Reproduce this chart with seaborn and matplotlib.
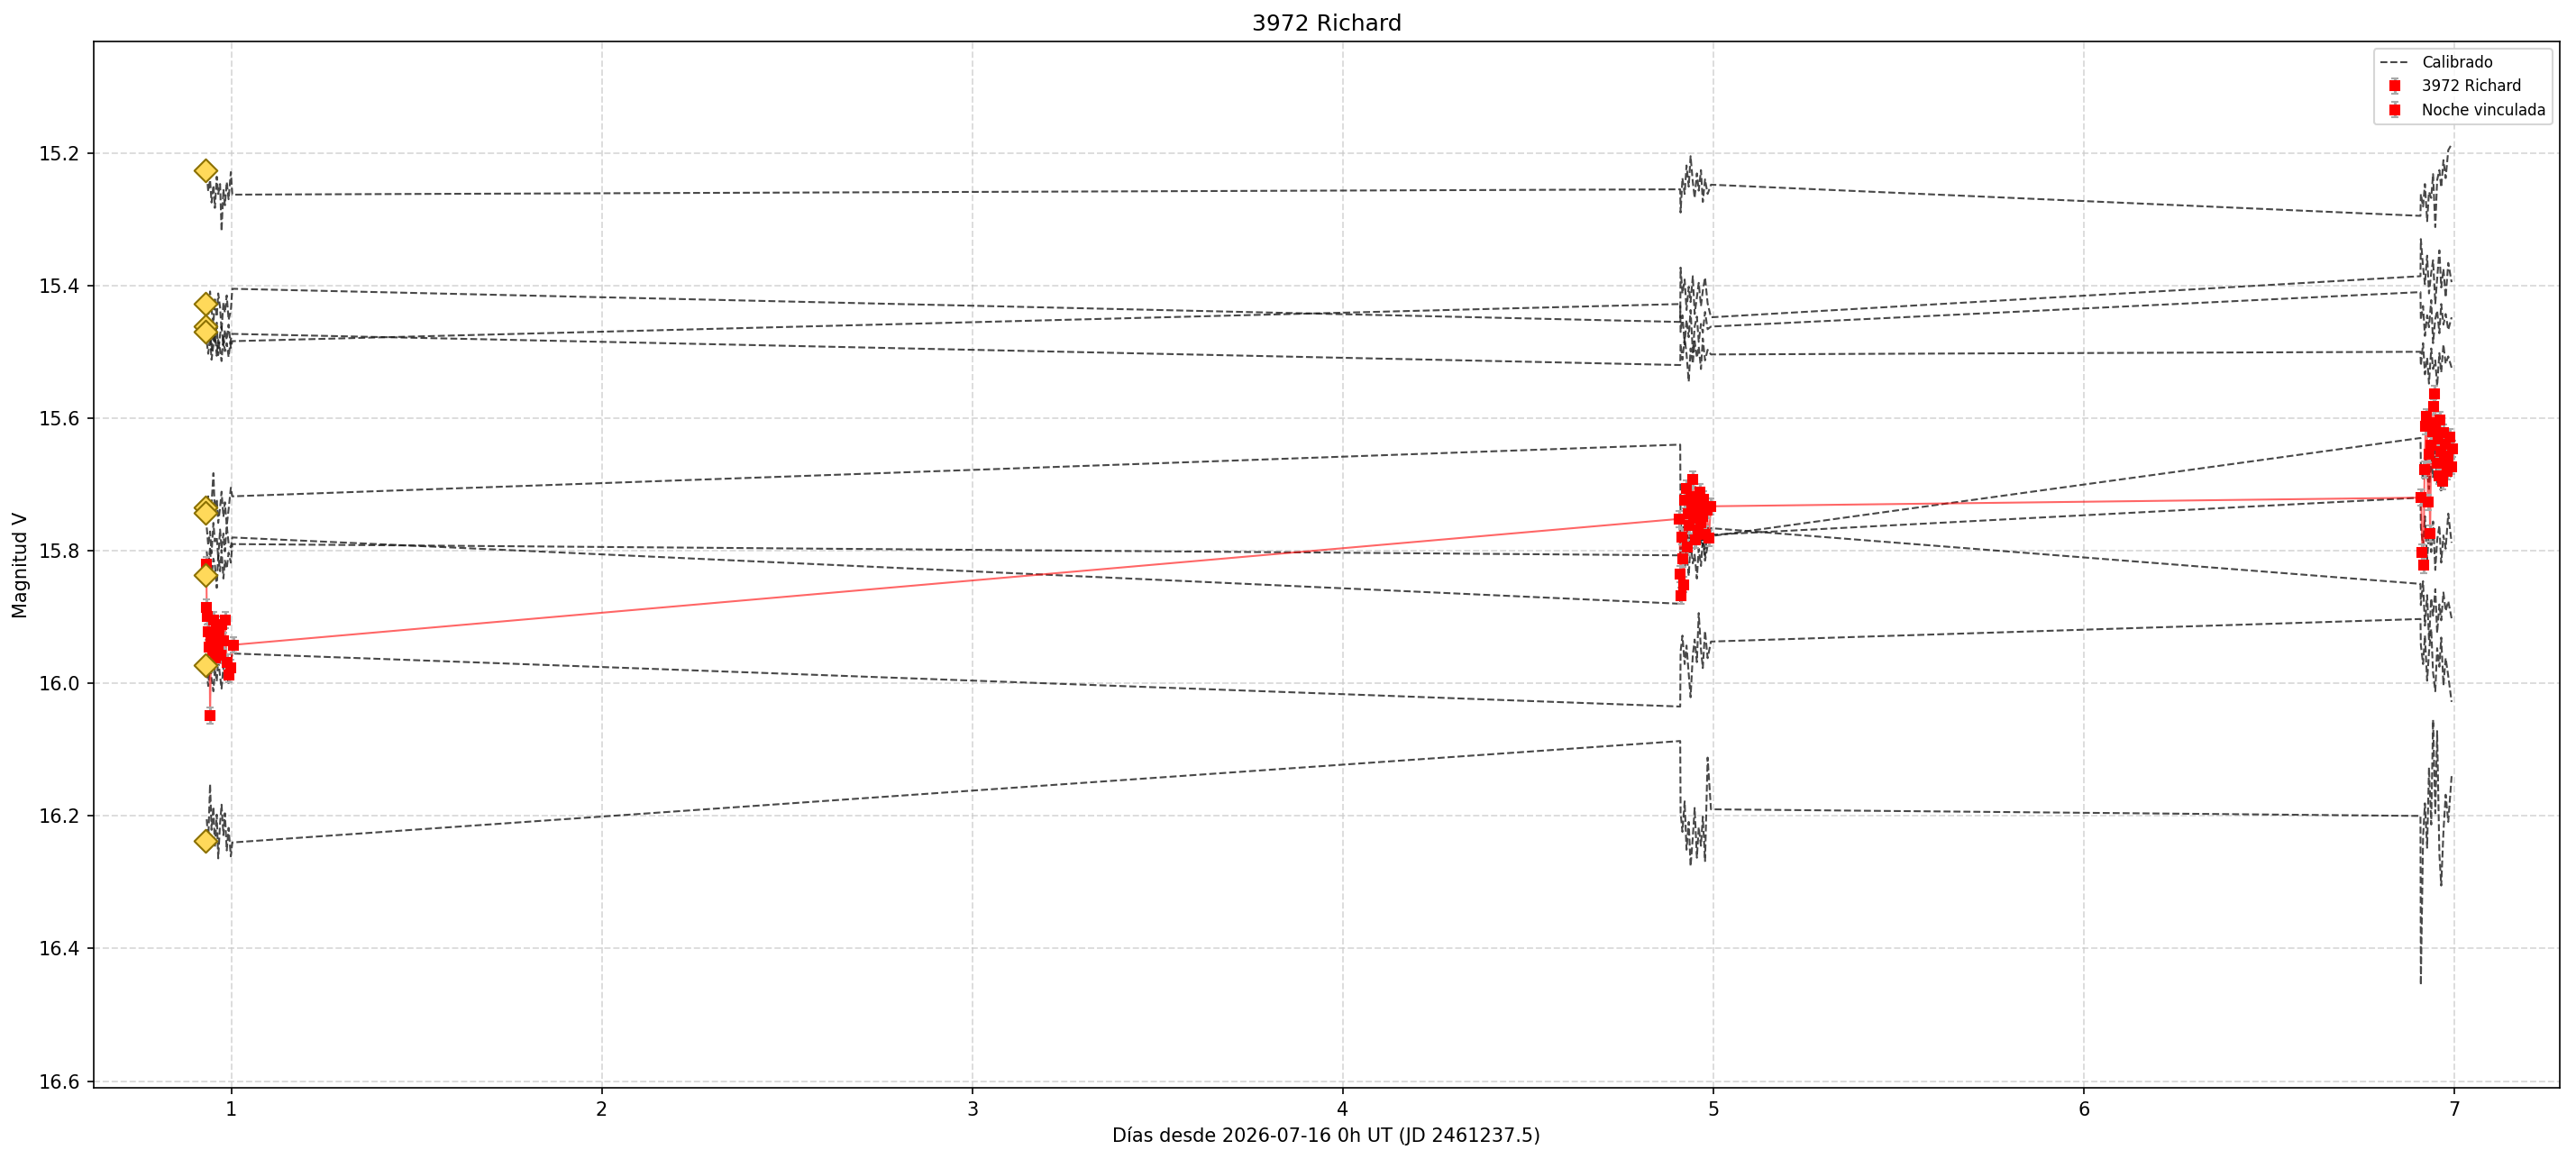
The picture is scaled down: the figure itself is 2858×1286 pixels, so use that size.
import matplotlib
matplotlib.use("Agg")
import matplotlib.pyplot as plt
import seaborn as sns
import pandas as pd

# === data ===
# observation times (days since 2026-07-16 0h UT), shared by all comparison stars
T_CAL = [0.934, 0.938, 0.943, 0.947, 0.952, 0.956, 0.961, 0.965, 0.970, 0.974, 0.979, 0.983, 0.988, 0.993, 0.999, 1.003,
         4.911, 4.912, 4.917, 4.923, 4.928, 4.934, 4.939, 4.945, 4.950, 4.956, 4.961, 4.967, 4.972, 4.978, 4.985, 4.994,
         6.909, 6.910, 6.916, 6.921, 6.927, 6.932, 6.938, 6.943, 6.949, 6.954, 6.960, 6.965, 6.971, 6.977, 6.984, 6.993]

STAR_A = [15.232, 15.258, 15.241, 15.275, 15.249, 15.283, 15.236, 15.262, 15.247, 15.318, 15.255, 15.279, 15.244, 15.270, 15.229, 15.263,
          15.255, 15.290, 15.238, 15.262, 15.219, 15.251, 15.205, 15.244, 15.268, 15.231, 15.257, 15.226, 15.274, 15.240, 15.262, 15.248,
          15.295, 15.262, 15.281, 15.247, 15.303, 15.259, 15.268, 15.232, 15.312, 15.241, 15.226, 15.252, 15.211, 15.238, 15.196, 15.187]
STAR_B = [15.418, 15.446, 15.409, 15.437, 15.458, 15.421, 15.447, 15.412, 15.433, 15.468, 15.426, 15.441, 15.415, 15.452, 15.438, 15.405,
          15.455, 15.373, 15.412, 15.391, 15.437, 15.402, 15.425, 15.386, 15.443, 15.418, 15.396, 15.431, 15.408, 15.388, 15.427, 15.448,
          15.386, 15.330, 15.372, 15.398, 15.355, 15.412, 15.381, 15.362, 15.427, 15.390, 15.347, 15.403, 15.375, 15.418, 15.366, 15.395]
STAR_C = [15.485, 15.503, 15.478, 15.512, 15.490, 15.468, 15.506, 15.482, 15.497, 15.514, 15.476, 15.499, 15.487, 15.508, 15.481, 15.473,
          15.520, 15.488, 15.512, 15.479, 15.503, 15.545, 15.495, 15.518, 15.484, 15.509, 15.492, 15.526, 15.480, 15.513, 15.497, 15.504,
          15.500, 15.521, 15.487, 15.534, 15.509, 15.548, 15.495, 15.526, 15.513, 15.552, 15.502, 15.531, 15.489, 15.518, 15.507, 15.524]
STAR_D = [15.452, 15.478, 15.463, 15.497, 15.471, 15.488, 15.456, 15.505, 15.474, 15.462, 15.491, 15.467, 15.482, 15.459, 15.494, 15.484,
          15.428, 15.470, 15.445, 15.489, 15.452, 15.478, 15.437, 15.501, 15.462, 15.447, 15.485, 15.458, 15.471, 15.440, 15.466, 15.462,
          15.410, 15.452, 15.431, 15.476, 15.445, 15.463, 15.422, 15.487, 15.450, 15.438, 15.472, 15.428, 15.459, 15.443, 15.467, 15.448]
STAR_E = [15.742, 15.718, 15.751, 15.729, 15.683, 15.744, 15.722, 15.758, 15.735, 15.711, 15.749, 15.727, 15.762, 15.738, 15.705, 15.718,
          15.640, 15.756, 15.781, 15.742, 15.769, 15.795, 15.751, 15.776, 15.788, 15.747, 15.772, 15.759, 15.793, 15.764, 15.785, 15.778,
          15.630, 15.668, 15.694, 15.652, 15.681, 15.707, 15.663, 15.689, 15.645, 15.699, 15.674, 15.712, 15.657, 15.686, 15.671, 15.693]
STAR_F = [15.765, 15.792, 15.771, 15.804, 15.758, 15.786, 15.779, 15.812, 15.768, 15.797, 15.774, 15.801, 15.762, 15.789, 15.795, 15.780,
          15.880, 15.812, 15.794, 15.827, 15.803, 15.838, 15.788, 15.819, 15.806, 15.842, 15.797, 15.823, 15.781, 15.815, 15.792, 15.766,
          15.850, 15.882, 15.846, 15.913, 15.867, 15.935, 15.872, 15.898, 15.858, 15.924, 15.881, 15.905, 15.863, 15.891, 15.876, 15.902]
STAR_G = [15.801, 15.826, 15.795, 15.838, 15.812, 15.821, 15.856, 15.807, 15.831, 15.799, 15.842, 15.815, 15.827, 15.803, 15.818, 15.790,
          15.807, 15.762, 15.788, 15.771, 15.803, 15.755, 15.784, 15.768, 15.797, 15.779, 15.758, 15.791, 15.774, 15.808, 15.765, 15.776,
          15.720, 15.765, 15.792, 15.748, 15.813, 15.771, 15.802, 15.756, 15.829, 15.784, 15.762, 15.818, 15.777, 15.797, 15.744, 15.788]
STAR_H = [15.982, 16.004, 15.971, 15.993, 16.012, 15.978, 15.997, 15.965, 15.989, 16.008, 15.974, 15.995, 15.983, 16.001, 15.968, 15.955,
          16.035, 15.952, 15.928, 15.971, 15.943, 15.986, 16.021, 15.957, 15.934, 15.968, 15.894, 15.949, 15.977, 15.921, 15.962, 15.937,
          15.903, 15.942, 15.971, 15.928, 15.996, 15.953, 15.918, 15.984, 16.012, 15.947, 15.975, 15.931, 16.003, 15.962, 15.989, 16.028]
STAR_I = [16.205, 16.238, 16.152, 16.221, 16.186, 16.247, 16.198, 16.264, 16.211, 16.183, 16.229, 16.196, 16.252, 16.218, 16.261, 16.240,
          16.087, 16.195, 16.224, 16.178, 16.251, 16.209, 16.276, 16.232, 16.188, 16.263, 16.217, 16.245, 16.201, 16.268, 16.112, 16.190,
          16.200, 16.455, 16.232, 16.181, 16.248, 16.127, 16.213, 16.055, 16.196, 16.072, 16.257, 16.305, 16.224, 16.168, 16.209, 16.140]

# catalogue magnitudes of the comparison stars
REF_T = 0.93
REF_MAG = [15.227, 15.427, 15.461, 15.469, 15.735, 15.743, 15.837, 15.973, 16.238]

# target, main night
RED1_T = [0.933, 0.934, 0.936, 0.938, 0.940, 0.942, 0.943, 0.946, 0.949, 0.952, 0.955, 0.958,
          0.961, 0.964, 0.968, 0.971, 0.975, 0.979, 0.983, 0.988, 0.993, 0.998, 1.005]
RED1_M = [15.821, 15.886, 15.899, 15.922, 15.945, 15.971, 16.049, 15.932, 15.951, 15.904, 15.938, 15.962,
          15.917, 15.948, 15.927, 15.958, 15.911, 15.936, 15.905, 15.968, 15.987, 15.976, 15.942]

# target, linked nights
RED2_T = [4.909, 4.911, 4.913, 4.915, 4.918, 4.921, 4.924, 4.927, 4.930, 4.933, 4.936, 4.939, 4.942, 4.945,
          4.948, 4.951, 4.954, 4.957, 4.960, 4.963, 4.966, 4.969, 4.972, 4.975, 4.979, 4.983, 4.988, 4.994,
          6.911, 6.914, 6.917, 6.920, 6.923, 6.926, 6.929, 6.932, 6.935, 6.938, 6.941, 6.944, 6.947, 6.950,
          6.953, 6.956, 6.959, 6.962, 6.965, 6.968, 6.971, 6.974, 6.977, 6.980, 6.984, 6.988, 6.992, 6.996]
RED2_M = [15.752, 15.835, 15.868, 15.779, 15.812, 15.851, 15.724, 15.706, 15.795, 15.744, 15.762, 15.718, 15.733, 15.692,
          15.751, 15.784, 15.727, 15.741, 15.769, 15.712, 15.758, 15.736, 15.748, 15.722, 15.775, 15.739, 15.781, 15.733,
          15.720, 15.803, 15.822, 15.678, 15.612, 15.598, 15.727, 15.655, 15.774, 15.641, 15.621, 15.583, 15.563, 15.607,
          15.668, 15.632, 15.687, 15.603, 15.651, 15.695, 15.622, 15.664, 15.639, 15.681, 15.657, 15.628, 15.673, 15.646]
RED_ERR = 0.012

STARS = [STAR_A, STAR_B, STAR_C, STAR_D, STAR_E, STAR_F, STAR_G, STAR_H, STAR_I]

# === plot ===
fig, ax = plt.subplots(figsize=(2858 / 150, 1286 / 150), dpi=150)
fig.subplots_adjust(left=104 / 2858, right=2840 / 2858, top=1 - 46 / 1286, bottom=1 - 1207 / 1286)

for i, mags in enumerate(STARS):
    sns.lineplot(x=T_CAL, y=mags, ax=ax, color="#1a1a1a", alpha=0.8, linewidth=1.0,
                 linestyle="--", estimator=None, sort=False,
                 label="Calibrado" if i == 0 else None, legend=False, zorder=2)

red_all = pd.DataFrame({"t": RED1_T + RED2_T, "mag": RED1_M + RED2_M})
sns.lineplot(data=red_all, x="t", y="mag", ax=ax, color="red", alpha=0.6,
             linewidth=1.0, estimator=None, sort=False, legend=False, zorder=3)

ax.errorbar(RED1_T, RED1_M, yerr=RED_ERR, fmt="s", color="red", ms=5,
            ecolor="darkgray", elinewidth=1.5, capsize=2, label="3972 Richard", zorder=4)
ax.errorbar(RED2_T, RED2_M, yerr=RED_ERR, fmt="s", color="red", ms=5,
            ecolor="darkgray", elinewidth=1.5, capsize=2, label="Noche vinculada", zorder=4)

sns.scatterplot(x=[REF_T] * len(REF_MAG), y=REF_MAG, ax=ax, marker="D", s=75,
                color="#FFD95A", edgecolor="#8B7000", linewidth=1.0, zorder=5, legend=False)

ax.set_xlim(0.629, 7.285)
ax.set_ylim(16.61, 15.032)
ax.set_yticks([15.2, 15.4, 15.6, 15.8, 16.0, 16.2, 16.4, 16.6])
ax.grid(True, color="#cccccc", linestyle="--", linewidth=0.9, alpha=0.7)
ax.set_axisbelow(True)

ax.set_xlabel("Días desde 2026-07-16 0h UT (JD 2461237.5)")
ax.set_ylabel("Magnitud V")
ax.set_title("3972 Richard", fontsize=12)

handles, labels = ax.get_legend_handles_labels()
keep = [(h, l) for h, l in zip(handles, labels) if l in ("Calibrado", "3972 Richard", "Noche vinculada")]
ax.legend([h for h, _ in keep], [l for _, l in keep], loc="upper right", fontsize=8)

plt.savefig("out.png", dpi=150)
